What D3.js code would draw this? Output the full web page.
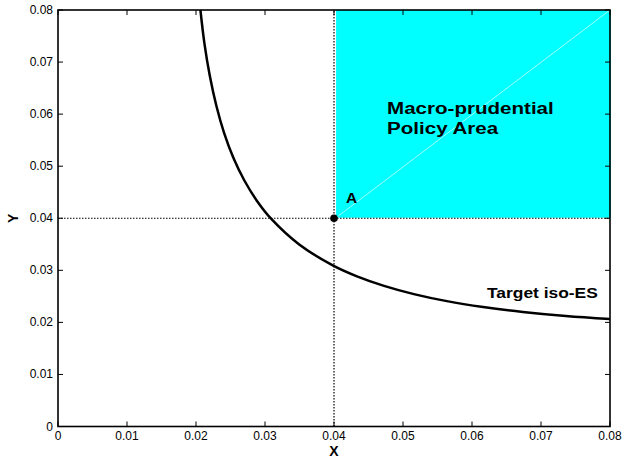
<!DOCTYPE html>
<html>
<head>
<meta charset="utf-8">
<script src="https://cdn.jsdelivr.net/npm/d3@7"></script>
<style>
  html, body { margin: 0; padding: 0; background: #fff; }
  svg { display: block; font-family: "Liberation Sans", Arial, Helvetica, sans-serif; }
</style>
</head>
<body>
<svg id="chart" width="625" height="457"></svg>
<script>
// Target iso-ES curve (x, y) points
const curveX = [0.02064, 0.02122, 0.02200, 0.02295, 0.02408, 0.02543, 0.02701, 0.02884, 0.03095, 0.03496,
                0.03982, 0.04333, 0.04725, 0.05158, 0.05636, 0.06161, 0.06736, 0.07360, 0.08000];
const curveY = [0.08000, 0.07360, 0.06736, 0.06161, 0.05636, 0.05158, 0.04725, 0.04333, 0.03982, 0.03496,
                0.03095, 0.02884, 0.02701, 0.02543, 0.02408, 0.02295, 0.02200, 0.02122, 0.02064];

// Point A and the policy area bounds
const pointA = [0.04, 0.04];
const areaX = [0.0403, 0.08];
const areaY = [0.0401, 0.08];

// Axis ticks
const tickValues = [0, 0.01, 0.02, 0.03, 0.04, 0.05, 0.06, 0.07, 0.08];
const tickLabels = ["0", "0.01", "0.02", "0.03", "0.04", "0.05", "0.06", "0.07", "0.08"];

// Annotation texts
const areaLabel = ["Macro-prudential", "Policy Area"];
const curveLabel = "Target iso-ES";
const pointLabel = "A";

const svg = d3.select("#chart");
const mLeft = 58, mRight = 610, mTop = 10, mBottom = 426.5;

const x = d3.scaleLinear().domain([0, 0.08]).range([mLeft, mRight]);
const y = d3.scaleLinear().domain([0, 0.08]).range([mBottom, mTop]);

// Policy area patch
svg.append("rect")
  .attr("x", x(areaX[0])).attr("y", y(areaY[1]))
  .attr("width", x(areaX[1]) - x(areaX[0]) + 1)
  .attr("height", y(areaY[0]) - y(areaY[1]))
  .attr("fill", "#00ffff");
svg.append("line")
  .attr("x1", x(areaX[0])).attr("y1", y(areaY[0]))
  .attr("x2", x(areaX[1])).attr("y2", y(areaY[1]))
  .attr("stroke", "#e6ffff").attr("stroke-width", 0.7);

// Dotted guide lines through A
svg.append("line")
  .attr("x1", x(pointA[0])).attr("x2", x(pointA[0]))
  .attr("y1", y(0)).attr("y2", y(0.08))
  .attr("stroke", "#000").attr("stroke-width", 1.2).attr("stroke-dasharray", "1.5,1.5");
svg.append("line")
  .attr("x1", x(0)).attr("x2", x(0.08))
  .attr("y1", y(pointA[1])).attr("y2", y(pointA[1]))
  .attr("stroke", "#000").attr("stroke-width", 1.2).attr("stroke-dasharray", "1.5,1.5");

// Iso-ES curve
const pts = curveX.map((v, i) => [v, curveY[i]]);
svg.append("path")
  .datum(pts)
  .attr("fill", "none")
  .attr("stroke", "#000")
  .attr("stroke-width", 2.5)
  .attr("d", d3.line().x(d => x(d[0])).y(d => y(d[1])).curve(d3.curveCatmullRom.alpha(0.5)));

// Point A
svg.append("circle")
  .attr("cx", x(pointA[0])).attr("cy", y(pointA[1])).attr("r", 3.8)
  .attr("fill", "#000");

// Axes: box with inward ticks on all four sides
const tick = 5;
const axisG = svg.append("g").attr("stroke", "#000").attr("fill", "none");
axisG.append("rect")
  .attr("x", mLeft).attr("y", mTop).attr("width", mRight - mLeft).attr("height", mBottom - mTop)
  .attr("stroke-width", 1.6);
tickValues.forEach(v => {
  axisG.append("line").attr("x1", x(v)).attr("x2", x(v)).attr("y1", mBottom).attr("y2", mBottom - tick).attr("stroke-width", 1);
  axisG.append("line").attr("x1", x(v)).attr("x2", x(v)).attr("y1", mTop).attr("y2", mTop + tick).attr("stroke-width", 1);
  axisG.append("line").attr("y1", y(v)).attr("y2", y(v)).attr("x1", mLeft).attr("x2", mLeft + tick).attr("stroke-width", 1);
  axisG.append("line").attr("y1", y(v)).attr("y2", y(v)).attr("x1", mRight).attr("x2", mRight - tick).attr("stroke-width", 1);
});

// Tick labels
const fs = 12;
svg.append("g").selectAll("text").data(tickValues).join("text")
  .attr("x", d => x(d)).attr("y", mBottom + 13.5)
  .attr("text-anchor", "middle").attr("font-size", fs).attr("fill", "#000")
  .text((d, i) => tickLabels[i]);
svg.append("g").selectAll("text").data(tickValues).join("text")
  .attr("x", mLeft - 5).attr("y", d => y(d) + 4)
  .attr("text-anchor", "end").attr("font-size", fs).attr("fill", "#000")
  .text((d, i) => tickLabels[i]);

// Axis titles
svg.append("text")
  .attr("x", (mLeft + mRight) / 2).attr("y", 455.5)
  .attr("text-anchor", "middle").attr("font-size", 14).attr("font-weight", "bold")
  .text("X");
svg.append("text")
  .attr("transform", `translate(18, ${(mTop + mBottom) / 2}) rotate(-90)`)
  .attr("text-anchor", "middle").attr("font-size", 14).attr("font-weight", "bold")
  .text("Y");

// Annotations
const ann = svg.append("g").attr("font-weight", "bold").attr("fill", "#000");
areaLabel.forEach((t, i) => {
  ann.append("text")
    .attr("transform", `translate(387, ${114 + i * 20}) scale(1.21, 1)`)
    .attr("font-size", 17)
    .text(t);
});
ann.append("text")
  .attr("transform", `translate(487, 298) scale(1.2, 1)`)
  .attr("font-size", 14.5)
  .text(curveLabel);
ann.append("text")
  .attr("transform", `translate(${x(pointA[0]) + 12}, 203) scale(1.1, 1)`)
  .attr("font-size", 14)
  .text(pointLabel);
</script>
</body>
</html>
